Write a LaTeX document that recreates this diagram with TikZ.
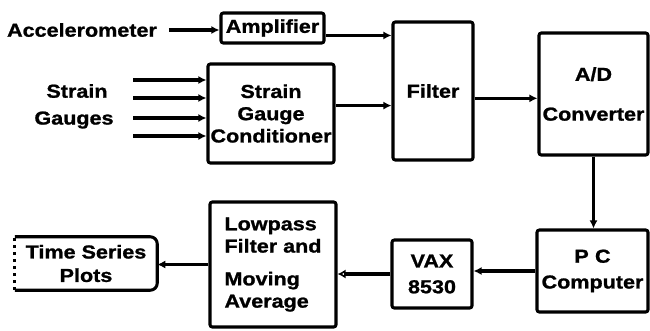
\documentclass[tikz,border=0pt]{standalone}
\usepackage{fontspec}
\setmainfont{Liberation Sans}[FakeStretch=1.15, BoldFeatures={FakeBold=1.2}]
\usetikzlibrary{arrows.meta,positioning}
\tikzset{%
  blk/.style={draw, line width=2.6pt, rounded corners=2pt, font=\fontsize{16}{19}\selectfont\bfseries,
              align=center, inner sep=0pt},
  lbl/.style={font=\fontsize{16}{19}\selectfont\bfseries, inner sep=2pt},
  conn/.style={line width=3pt, -{Latex[length=7pt,width=7pt]}},
  connopen/.style={line width=3pt, -{Latex[open,length=7pt,width=8pt]}},
}

\begin{document}
\begin{tikzpicture}[x=0.03cm, y=-0.03cm]
\useasboundingbox (0,0) rectangle (650,330);

% Top row: sensors, conditioning and filter
\node[lbl] (acc) at (82,30) {Accelerometer};
\node[blk, minimum width=3.09cm, minimum height=0.9cm] (amp) at (272.5,28) {Amplifier};
\node[blk, minimum width=3.78cm, minimum height=2.97cm] (sgc) at (271,113.5) {Strain\\Gauge\\Conditioner};
\node[blk, minimum width=2.4cm, minimum height=4.14cm] (filter) at (433,91) {Filter};
\node[blk, minimum width=3.27cm, minimum height=3.66cm] (ad) at (593.5,94) {A/D\\[15pt]Converter};

\node[lbl] (strain) at (77,91) {Strain};
\node[lbl] (gauges) at (74,120) {Gauges};

% Bottom row: computers and output
\node[blk, minimum width=3.33cm, minimum height=2.46cm] (pc) at (592.5,271) {P\,\,C\\[3pt]Computer};
\node[blk, minimum width=2.4cm, minimum height=2.04cm] (vax) at (432,274) {VAX\\[3pt]8530};
\node[blk, align=left, minimum width=3.78cm, minimum height=3.75cm] (lp) at (273,264.5)
  {Lowpass\\Filter and\\[9pt]Moving\\Average};
\node[lbl, align=center, minimum width=4.26cm, minimum height=1.59cm, inner sep=0pt,
      font=\fontsize{16}{20}\selectfont\bfseries] (ts) at (86,263.5) {Time Series\\Plots};

% Time series box, dashed on its left side
\draw[line width=2.6pt, rounded corners=6pt] (ts.north west) -- (ts.north east) -- (ts.south east) -- (ts.south west);
\draw[line width=2.6pt, dashed] (ts.south west) -- (ts.north west);

% Signal path
\draw[conn, shorten <=8pt] (acc.east) -- (acc.east -| amp.west);
\foreach \y [count=\i] in {80,98,118,136} {
  \coordinate (g\i) at (133,\y);
  \draw[conn] (g\i) -- (g\i -| sgc.west);
}
\draw[conn] (amp.-8) -- (amp.-8 -| filter.west);
\draw[conn] (sgc.7) -- (sgc.7 -| filter.west);
\draw[conn] (filter.-10) -- (filter.-10 -| ad.west);
\draw[conn] (ad.south) -- (ad.south |- pc.north);
\draw[conn] (pc.west) -- (pc.west -| vax.east);
\draw[connopen] (vax.west) -- (vax.west -| lp.east);
\draw[conn] (lp.west) -- (lp.west -| ts.east);

\end{tikzpicture}
\end{document}
